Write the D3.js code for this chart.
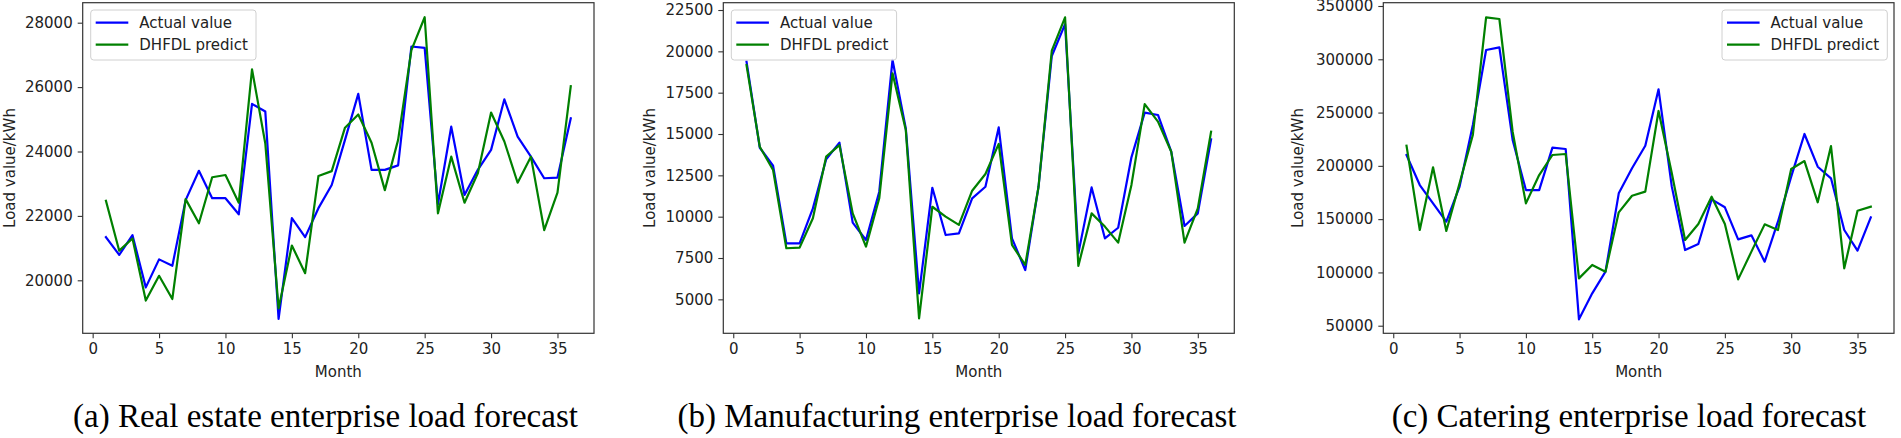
<!DOCTYPE html>
<html><head><meta charset="utf-8">
<script src="https://cdn.jsdelivr.net/npm/d3@7"></script>
<style>body{margin:0;background:#fff}svg{display:block}</style>
</head><body>
<svg id="chart" width="1901" height="438"></svg>
<script>
const months = [1,2,3,4,5,6,7,8,9,10,11,12,13,14,15,16,17,18,19,20,21,22,23,24,25,26,27,28,29,30,31,32,33,34,35,36];
const xTicks = [0,5,10,15,20,25,30,35];
const seriesNames = ["Actual value","DHFDL predict"];
const captions = ["(a) Real estate enterprise load forecast","(b) Manufacturing enterprise load forecast","(c) Catering enterprise load forecast"];

const realEstateTicks = [20000,22000,24000,26000,28000];
const realEstateActual = [21340,20790,21400,19780,20650,20450,22490,23400,22550,22550,22050,25480,25240,18800,21930,21340,22240,22960,24360,25790,23430,23430,23570,27260,27220,22370,24770,22650,23430,24050,25620,24460,23840,23170,23190,25030];
const realEstatePredict = [22470,20920,21300,19370,20140,19420,22520,21770,23200,23270,22410,26550,24250,19130,21080,20220,23240,23390,24740,25150,24270,22800,24360,27150,28170,22080,23840,22410,23320,25210,24310,23030,23840,21560,22720,26030];

const manufacturingTicks = [5000,7500,10000,12500,15000,17500,20000,22500];
const manufacturingActual = [19370,14170,13080,8390,8390,10500,13470,14480,9640,8590,11510,19480,15340,5360,11750,8890,8990,11110,11810,15400,8690,6770,11810,19720,21650,7780,11770,8690,9330,13590,16290,16150,13930,9440,10200,14680];
const manufacturingPredict = [19170,14230,12820,8090,8130,9900,13630,14330,10200,8190,11110,18670,15240,3850,10600,10000,9500,11570,12580,14400,8290,7080,11810,20040,22060,7020,10200,9400,8430,11920,16810,15750,13930,8430,10500,15140];

const cateringTicks = [50000,100000,150000,200000,250000,300000,350000];
const cateringActual = [210200,182000,164800,147600,180500,238300,308700,311200,224300,177300,177300,217100,215800,56000,80400,100700,174200,197700,218900,271800,180500,121000,126700,168600,161100,131000,134800,110100,147600,189900,229900,199200,188300,139800,120400,151700];
const cateringPredict = [218900,139800,198600,138900,183600,229000,339400,337800,232000,164800,191400,210200,211100,94400,107000,100700,156400,172000,175800,251500,193000,130400,145400,171100,145400,93500,119500,145100,139800,197000,204500,165800,218600,103800,157900,161700];

const svg = d3.select("#chart");
const FONT = "'DejaVu Sans', sans-serif";
const TOP = 2.7, BOTTOM = 333.3;

const panels = [
  {left:82.7, right:594, yDomain:[18354,28621], ticks:realEstateTicks, actual:realEstateActual, predict:realEstatePredict, ylabX:9.7, legend:"left", capX:325.5, caption:captions[0]},
  {left:723.3, right:1234.3, yDomain:[2946,22942], ticks:manufacturingTicks, actual:manufacturingActual, predict:manufacturingPredict, ylabX:650, legend:"left", capX:957, caption:captions[1]},
  {left:1383.3, right:1894, yDomain:[42878,353097], ticks:cateringTicks, actual:cateringActual, predict:cateringPredict, ylabX:1297.5, legend:"right", capX:1629, caption:captions[2]}
];

panels.forEach(p => {
  const x = d3.scaleLinear().domain([-0.75,37.75]).range([p.left,p.right]);
  const y = d3.scaleLinear().domain(p.yDomain).range([BOTTOM,TOP]);
  const g = svg.append("g");

  const xa = g.append("g").attr("transform",`translate(0,${BOTTOM})`)
    .call(d3.axisBottom(x).tickValues(xTicks).tickSize(5).tickPadding(5).tickFormat(d3.format("d")));
  const ya = g.append("g").attr("transform",`translate(${p.left},0)`)
    .call(d3.axisLeft(y).tickValues(p.ticks).tickSize(5).tickPadding(5).tickFormat(d3.format("d")));
  [xa,ya].forEach(a => {
    a.select(".domain").remove();
    a.selectAll("line").attr("stroke","#333").attr("stroke-width",1.1);
    a.selectAll("text").attr("font-family",FONT).attr("font-size",15).attr("fill","#222");
  });

  const line = d3.line().x((d,i)=>x(months[i])).y(d=>y(d));
  g.append("path").datum(p.actual).attr("d",line).attr("fill","none")
    .attr("stroke","#0000ff").attr("stroke-width",2.2).attr("stroke-linejoin","round").attr("stroke-linecap","square");
  g.append("path").datum(p.predict).attr("d",line).attr("fill","none")
    .attr("stroke","#008000").attr("stroke-width",2.2).attr("stroke-linejoin","round").attr("stroke-linecap","square");

  g.append("rect").attr("x",p.left).attr("y",TOP).attr("width",p.right-p.left).attr("height",BOTTOM-TOP)
    .attr("fill","none").attr("stroke","#333").attr("stroke-width",1.2);

  g.append("text").attr("x",(p.left+p.right)/2).attr("y",377).attr("text-anchor","middle")
    .attr("font-family",FONT).attr("font-size",15).attr("fill","#222").text("Month");
  g.append("text").attr("transform",`translate(${p.ylabX+5},${(TOP+BOTTOM)/2}) rotate(-90)`)
    .attr("text-anchor","middle").attr("font-family",FONT).attr("font-size",15).attr("fill","#222").text("Load value/kWh");

  const lw = 165.3, lh = 50;
  const lx = p.legend === "left" ? p.left + 8 : p.right - 6.7 - lw;
  const ly = 10;
  const lg = g.append("g");
  lg.append("rect").attr("x",lx).attr("y",ly).attr("width",lw).attr("height",lh).attr("rx",3)
    .attr("fill","#fff").attr("fill-opacity",0.8).attr("stroke","#d0d0d0").attr("stroke-width",1);
  const colors = ["#0000ff","#008000"];
  seriesNames.forEach((n,i) => {
    const yy = ly + 12.7 + i*22;
    lg.append("line").attr("x1",lx+5).attr("x2",lx+37.6).attr("y1",yy).attr("y2",yy)
      .attr("stroke",colors[i]).attr("stroke-width",2.2);
    lg.append("text").attr("x",lx+48.6).attr("y",yy).attr("dy","0.35em")
      .attr("font-family",FONT).attr("font-size",15).attr("fill","#222").text(n);
  });

  svg.append("text").attr("x",p.capX).attr("y",427).attr("text-anchor","middle")
    .attr("font-family","'Liberation Serif','Times New Roman',serif").attr("font-size",33).attr("fill","#000").text(p.caption);
});
</script>
</body></html>
